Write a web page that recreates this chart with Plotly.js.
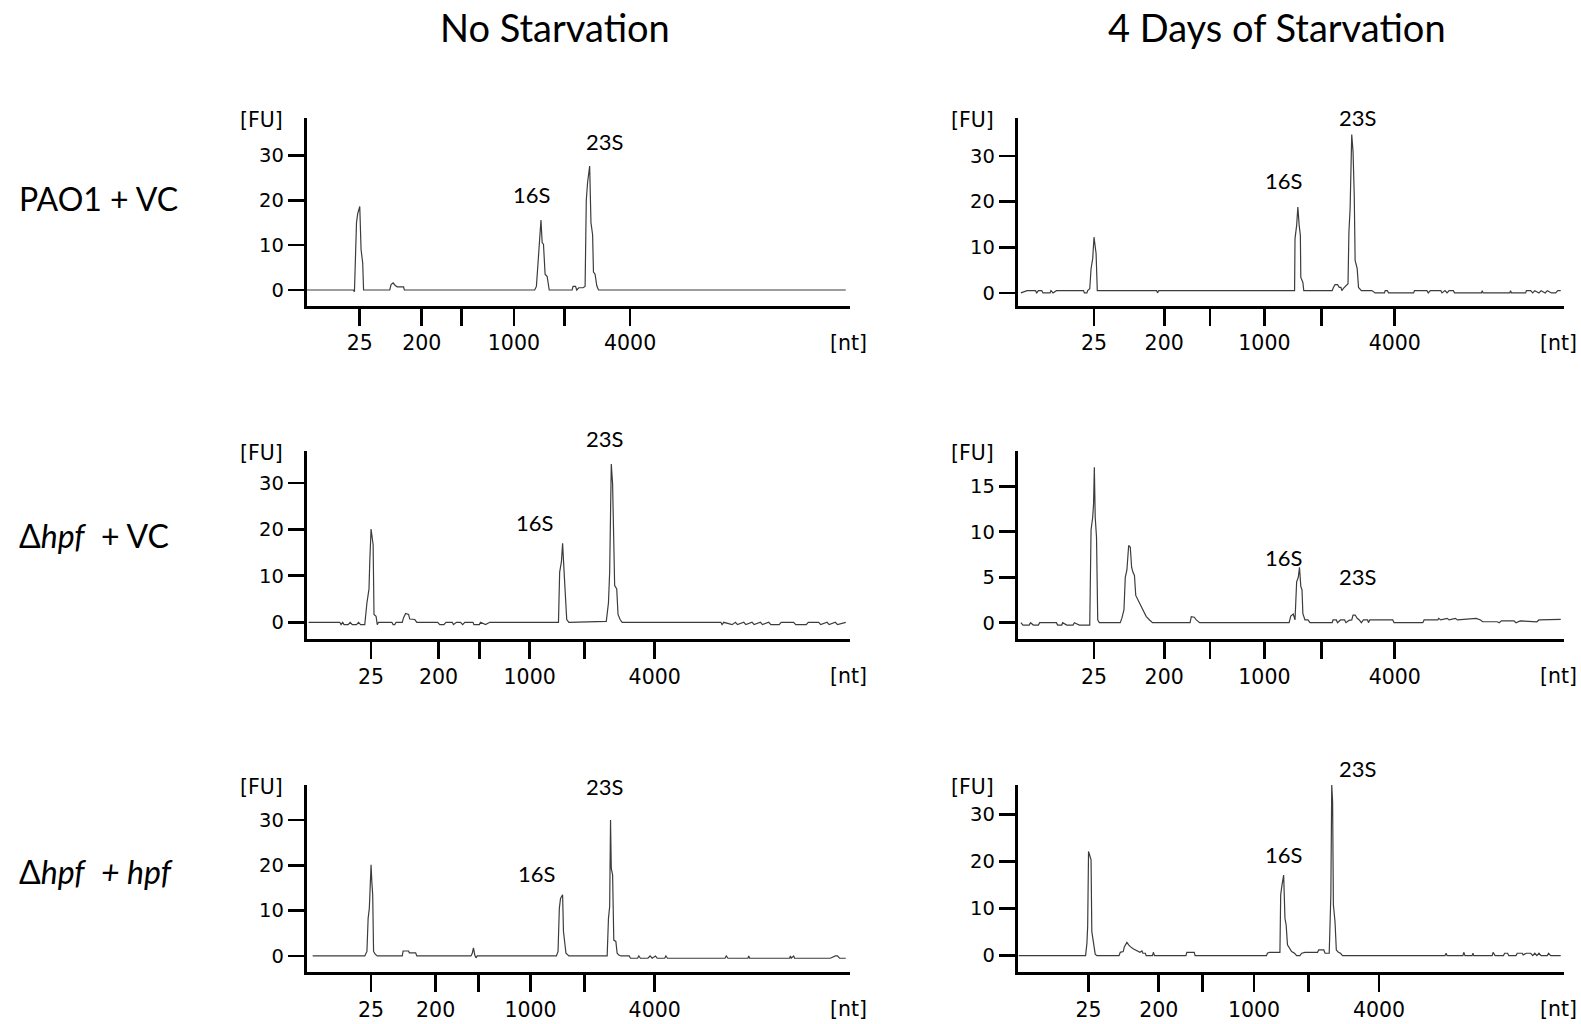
<!DOCTYPE html>
<html>
<head>
<meta charset="utf-8">
<script src="https://cdn.plot.ly/plotly-3.0.1.min.js"></script>
<style>html,body{margin:0;padding:0;background:#fff;}#chart{width:1581px;height:1024px;}</style>
</head>
<body>
<div id="chart"></div>
<script>
// Migration time (s) and fluorescence (FU)
const colTitles = ["No Starvation", "4 Days of Starvation"];
const rowLabels = ["PAO1 + VC", "\u0394<i>hpf</i>\u00A0\u00A0+ VC", "\u0394<i>hpf</i>\u00A0\u00A0<i>+ hpf</i>"];
const tickText = ["25", "200", "", "1000", "", "4000"];

// Row 1, No Starvation (PAO1 + VC)
const tA = [20.00,24.30,24.41,24.60,24.71,24.90,25.02,25.17,25.25,27.66,27.78,27.97,28.16,28.35,28.93,29.00,40.99,41.15,41.30,41.45,41.57,41.68,41.80,41.95,42.14,42.33,44.44,44.52,44.75,44.86,45.05,45.44,45.63,45.74,45.86,46.05,46.17,46.32,46.40,46.55,46.70,46.86,69.61];
const yA = [0,0,-0.4,15,17,18.6,9,6,0,0,1.2,1.6,1.0,0.7,0.7,0,0,0.8,6,10.5,15.6,10.5,10.2,3.5,3,0,0,0.8,0.8,0,0.5,0.5,0.8,20,24,27.6,15,12.3,4,3.5,1,0,0];
const ticksA = [24.90,30.61,34.29,39.08,43.75,49.77];

// Row 1, 4 Days of Starvation
const tB = [20.31,20.88,21.64,21.76,21.91,22.22,22.33,22.98,23.06,23.25,23.56,26.04,26.12,26.35,26.42,26.61,26.73,26.88,27.00,27.11,27.19,27.30,32.73,32.81,32.92,45.35,45.39,45.54,45.65,45.77,45.88,45.92,46.11,46.19,48.79,48.90,49.05,49.28,49.44,49.59,49.67,49.82,50.05,50.24,50.32,50.43,50.58,50.70,50.81,50.89,51.08,51.20,51.46,52.42,52.72,53.57,53.64,53.83,53.95,56.24,56.32,57.46,57.58,57.77,58.73,58.84,59.11,59.30,59.49,59.87,59.99,62.44,62.52,62.59,65.04,65.11,65.19,66.49,66.56,66.95,67.14,67.33,67.71,67.90,68.28,68.47,68.86,69.24,69.43,69.70];
const yB = [0,0.5,0.5,0,0.5,0.5,0,0,0.5,0,0.5,0.5,0,0,0.5,0.9,5.3,7.5,12.2,10.4,8.6,0.5,0.5,0,0.5,0.5,11.9,14.8,18.8,14.8,12.6,3.4,2.3,0.5,0.5,1.2,1.8,1.8,1.2,1.2,0.5,1.0,1.5,2,13.3,18.4,34.7,30.9,21.4,7.1,5.3,1.2,0.5,0.5,0,0,0.5,0.5,0,0,0.5,0.5,0,0.5,0.5,0,0.5,0,0.5,0.5,0,0,0.5,0,0,0.5,0,0,0.5,0.5,0,0.5,0,0.5,0,0.5,0,0,0.5,0.5];
const ticksB = [27.00,33.42,37.62,42.59,47.83,54.52];

// Row 2, No Starvation (delta hpf + VC)
const tC = [20.19,23.06,23.18,23.33,23.45,23.83,24.02,24.21,24.60,24.79,24.98,25.36,25.56,25.75,25.82,25.94,26.05,26.13,26.21,26.40,26.51,26.63,27.85,27.97,28.12,28.24,28.81,28.93,29.12,29.39,29.50,29.96,30.15,32.07,32.26,32.64,32.83,33.41,33.52,33.79,34.17,34.37,34.56,35.32,35.40,35.90,36.01,36.47,36.86,43.18,43.29,43.45,43.56,43.68,43.75,43.94,44.14,47.58,47.78,47.89,47.97,48.04,48.16,48.23,48.35,48.54,48.66,48.85,49.04,58.12,58.23,58.39,59.15,59.46,59.65,60.23,60.42,60.99,61.18,61.76,61.95,62.52,62.72,63.48,63.67,64.82,65.01,65.97,66.16,67.12,67.31,67.89,68.08,68.65,68.85,69.61];
const yC = [0,0,-0.5,0,-0.5,-0.5,0,-0.5,-0.5,0,-0.5,-0.5,4.2,7.2,13,20.1,18.1,16.7,1.7,1.3,-0.5,0,0,-0.5,-0.5,0,0,1,1.9,1.7,0.7,0.6,0,0,-0.5,-0.5,0,0,-0.5,0,0,-0.5,0,0,-0.5,-0.5,0,-0.5,0,0,10.8,13,17,10,8.6,0.6,0,0.2,4.2,10.8,20.3,34.1,29.8,20.3,7.9,7.2,1.7,0.6,0,0,-0.5,0,-0.5,0,-0.5,0,-0.5,0,-0.5,0,-0.5,0,-0.5,-0.5,0,0,-0.5,-0.5,0,0,-0.5,0,-0.5,0,-0.5,0];
const ticksC = [25.94,32.14,35.90,40.53,45.59,52.03];

// Row 2, 4 Days of Starvation
const tD = [20.31,20.50,21.07,21.19,21.45,21.91,22.03,23.56,23.67,24.05,24.13,24.51,25.08,25.20,25.66,26.61,26.73,26.88,26.96,27.03,27.11,27.23,27.34,27.49,29.40,29.55,29.74,29.86,30.01,30.17,30.32,30.44,30.55,30.70,30.82,31.01,31.20,31.39,31.58,31.77,32.08,32.35,35.79,35.90,36.17,36.36,36.67,44.85,45.00,45.23,45.39,45.54,45.69,45.80,45.92,46.03,46.11,46.30,46.57,46.76,48.79,48.87,49.17,49.28,49.55,49.93,50.05,50.32,50.58,50.70,50.89,51.08,51.27,51.46,51.65,52.03,52.11,52.23,54.33,54.45,57.08,57.20,58.46,58.53,58.73,59.30,59.49,60.06,60.25,61.59,61.97,62.36,62.55,63.89,64.08,64.27,65.42,65.61,65.99,67.52,67.71,69.70];
const yD = [0,-0.26,-0.26,0,-0.26,-0.26,0,0,-0.26,-0.26,0,-0.26,-0.26,0,-0.26,-0.26,10.2,11.6,13.1,17.1,11.6,9.4,0.3,0,0,0.5,1.4,5.0,5.8,8.5,8.3,6.1,5.6,5.2,3.0,2.5,2.1,1.6,1.2,0.7,0.3,0,0,0.66,0.6,0.3,0,0,0.73,0.95,0.3,4.5,5.0,6.1,4.0,3.6,1.0,0.3,0.3,0,0,0.3,0.3,0,0.3,0.3,0,0.25,0.3,0.84,0.84,0.48,0.3,0,0.3,0.3,0,0.3,0.3,0,0,0.3,0.3,0.48,0.3,0.48,0.3,0.48,0.3,0.48,0.48,0.3,0.1,0.1,0,0.2,0.2,0,0.2,0.1,0.3,0.37];
const ticksD = [27.00,33.42,37.62,42.59,47.83,54.52];

// Row 3, No Starvation (delta hpf + hpf)
const tE = [20.57,25.36,25.56,25.67,25.78,25.94,26.01,26.09,26.17,26.32,26.51,28.81,28.89,29.39,29.46,30.04,30.15,35.13,35.25,35.36,35.48,35.59,35.71,42.99,43.14,43.26,43.37,43.56,43.64,43.75,43.87,44.14,47.66,47.78,47.89,47.97,48.04,48.16,48.27,48.46,48.58,48.73,48.92,49.69,49.81,50.46,50.57,50.72,51.41,51.61,51.80,52.10,52.26,52.95,53.06,53.21,58.50,58.62,58.77,60.61,60.69,60.76,64.44,64.52,64.59,64.82,64.90,66.16,66.24,68.08,68.19,68.65,68.85,69.04,69.61];
const yE = [0,0,1,8.3,10.5,20.1,16.4,13.5,1,0.4,0,0,1.1,1.1,0.7,0.7,0,0,0.6,1.8,0.2,-0.4,0,0,1,10.5,12.7,13.5,5.4,3.5,0.6,0,0,8.3,10.9,30,19.3,17.9,3.5,3.2,0.6,0.2,0,0,-0.5,-0.5,0,-0.5,-0.5,0,-0.5,0,-0.5,-0.5,0,-0.5,-0.5,0,-0.5,-0.5,0,-0.5,-0.5,0,-0.5,0,-0.5,-0.5,-0.5,-0.5,-0.5,0,0,-0.5,-0.5];
const ticksE = [25.94,31.88,35.82,40.61,45.59,52.03];

// Row 3, 4 Days of Starvation
const tF = [20.11,26.23,26.35,26.42,26.50,26.61,26.73,26.80,26.92,27.11,27.26,29.29,29.40,29.67,29.78,30.01,30.17,30.32,30.62,31.01,31.20,31.39,31.47,31.70,31.77,32.35,32.43,32.54,35.41,35.49,36.17,36.25,42.78,42.86,43.05,44.01,44.08,44.20,44.35,44.47,44.58,44.70,44.85,45.08,45.35,45.54,45.84,46.00,46.30,47.45,47.56,48.02,48.14,48.52,48.67,48.75,48.83,48.90,49.05,49.17,49.36,49.55,49.74,59.11,59.22,59.30,60.75,60.83,60.94,61.59,61.67,61.74,63.43,63.51,63.70,64.46,64.57,64.84,64.95,65.61,65.72,66.18,66.26,66.56,66.95,67.14,67.33,67.52,67.71,67.90,68.47,68.59,68.78,69.70];
const yF = [0,0,2.6,6.2,22.1,21.4,20.3,5.1,3,0.3,0,0,0.7,0.85,1.9,2.8,2.3,1.9,1.4,1.0,0.7,1.0,0.5,0.5,0,0,0.7,0,0,0.7,0.7,0,0,0.5,0.7,0.7,12.9,15,17.1,7.9,6.5,2.3,1.6,0.85,0.5,0,0,0.5,0.7,0.7,1.2,1.2,0.5,0.5,12.9,36.2,32.7,10.8,7.2,1.2,0.7,0.5,0,0,0.5,0,0,0.7,0,0,0.5,0,0,0.7,0,0,0.5,0.5,0,0,0.5,0.5,0.15,0.5,0.5,0,0.5,0,0.5,0,0,0.5,0,0];
const ticksF = [26.50,32.92,36.94,41.64,46.61,53.07];

// y axis ranges and tick values of each panel
const yRanges = [[-3.5,38.3],[-2.8,38.3],[-3.66,36.9],[-1.83,18.9],[-3.6,37.7],[-3.54,36.2]];
const yTicks = [[0,10,20,30],[0,10,20,30],[0,10,20,30],[0,5,10,15],[0,10,20,30],[0,10,20,30]];
// Peak labels: [time16S, fu16S, time23S, fu23S]
const peakLabels = [[40.69,21.2,47.39,33.1],[44.31,24.7,51.08,38.5],[40.99,21.4,47.39,39.7],[44.31,7.2,51.08,5.05],[41.15,18.2,47.39,37.4],[44.31,21.4,51.08,39.8]];

const panels = [
  {t:tA, y:yA, ticks:ticksA},
  {t:tB, y:yB, ticks:ticksB},
  {t:tC, y:yC, ticks:ticksC},
  {t:tD, y:yD, ticks:ticksD},
  {t:tE, y:yE, ticks:ticksE},
  {t:tF, y:yF, ticks:ticksF}
];

const W = 1581, H = 1024;
const colX = [[306.5, 850], [1017.5, 1564]];
const rowY = [[118, 305.7], [451, 639.3], [785, 972.3]];
const yTickFont = {family: "'DejaVu Sans', Verdana, sans-serif", size: 19.5, color: '#000'};
const xTickFont = {family: "'DejaVu Sans', Verdana, sans-serif", size: 20.5, color: '#000'};
const unitFont = {family: "'DejaVu Sans', Verdana, sans-serif", size: 20.5, color: '#000'};
const labelFont = {family: "Lato, 'Open Sans', sans-serif", size: 22, color: '#000'};

const data = [];
const layout = {
  width: W, height: H,
  margin: {l:0, r:0, t:0, b:0},
  paper_bgcolor: '#fff', plot_bgcolor: 'rgba(0,0,0,0)',
  showlegend: false,
  annotations: []
};

panels.forEach((p, i) => {
  const row = Math.floor(i / 2), col = i % 2;
  const n = i === 0 ? '' : String(i + 1);
  data.push({
    x: p.t, y: p.y, xaxis: 'x' + n, yaxis: 'y' + n,
    type: 'scatter', mode: 'lines',
    line: {color: '#3c3c3c', width: 1.2},
    hoverinfo: 'skip'
  });
  const xd = [colX[col][0] / W, colX[col][1] / W];
  const yd = [1 - rowY[row][1] / H, 1 - rowY[row][0] / H];
  layout['xaxis' + n] = {
    domain: xd, range: [20, 70], anchor: 'y' + n,
    showline: true, linecolor: '#000', linewidth: 2.8,
    ticks: 'outside', ticklen: 17, tickwidth: 2.8, tickcolor: '#000',
    tickmode: 'array', tickvals: p.ticks, ticktext: tickText,
    ticklabelstandoff: 0,
    tickfont: xTickFont, showgrid: false, zeroline: false, fixedrange: true
  };
  layout['yaxis' + n] = {
    domain: yd, range: yRanges[i], anchor: 'x' + n,
    showline: true, linecolor: '#000', linewidth: 2.8,
    ticks: 'outside', ticklen: 16, tickwidth: 2.8, tickcolor: '#000',
    tickmode: 'array', tickvals: yTicks[i],
    tickfont: yTickFont, showgrid: false, zeroline: false, fixedrange: true
  };
  const xr = 'x' + n, yr = 'y' + n;
  const r = yRanges[i];
  const frac = v => (v - r[0]) / (r[1] - r[0]);
  layout.annotations.push({
    text: '[FU]', xref: xr + ' domain', yref: yr + ' domain', x: 0, y: 1,
    xanchor: 'right', yanchor: 'middle', xshift: -22, yshift: -2,
    showarrow: false, font: unitFont
  });
  layout.annotations.push({
    text: '[nt]', xref: xr + ' domain', yref: yr + ' domain', x: 1, y: 0,
    xanchor: 'center', yanchor: 'middle', yshift: -37, xshift: col === 1 ? -6 : -2,
    showarrow: false, font: unitFont
  });
  const pl = peakLabels[i];
  layout.annotations.push({
    text: '16S', xref: xr, yref: yr + ' domain', x: pl[0], y: frac(pl[1]),
    xanchor: 'center', yanchor: 'middle', showarrow: false, font: labelFont
  });
  layout.annotations.push({
    text: '23S', xref: xr, yref: yr + ' domain', x: pl[2], y: frac(pl[3]),
    xanchor: 'center', yanchor: 'middle', showarrow: false, font: labelFont
  });
});

// Column titles
const titleX = [554.5, 1277];
colTitles.forEach((t, c) => {
  layout.annotations.push({
    text: t, xref: 'paper', yref: 'paper', x: titleX[c] / W, y: 1 - 27 / H,
    xanchor: 'center', yanchor: 'middle', showarrow: false,
    font: {family: "Lato, 'Open Sans', sans-serif", size: 38, color: '#000'}
  });
});
// Row labels
const rowLabelY = [198, 535, 871];
rowLabels.forEach((t, r) => {
  layout.annotations.push({
    text: t, xref: 'paper', yref: 'paper', x: 17 / W, y: 1 - rowLabelY[r] / H,
    xanchor: 'left', yanchor: 'middle', showarrow: false,
    font: {family: "Lato, 'Open Sans', sans-serif", size: 32, color: '#000'}
  });
});

Plotly.newPlot('chart', data, layout, {staticPlot: true, displayModeBar: false});
</script>
</body>
</html>
